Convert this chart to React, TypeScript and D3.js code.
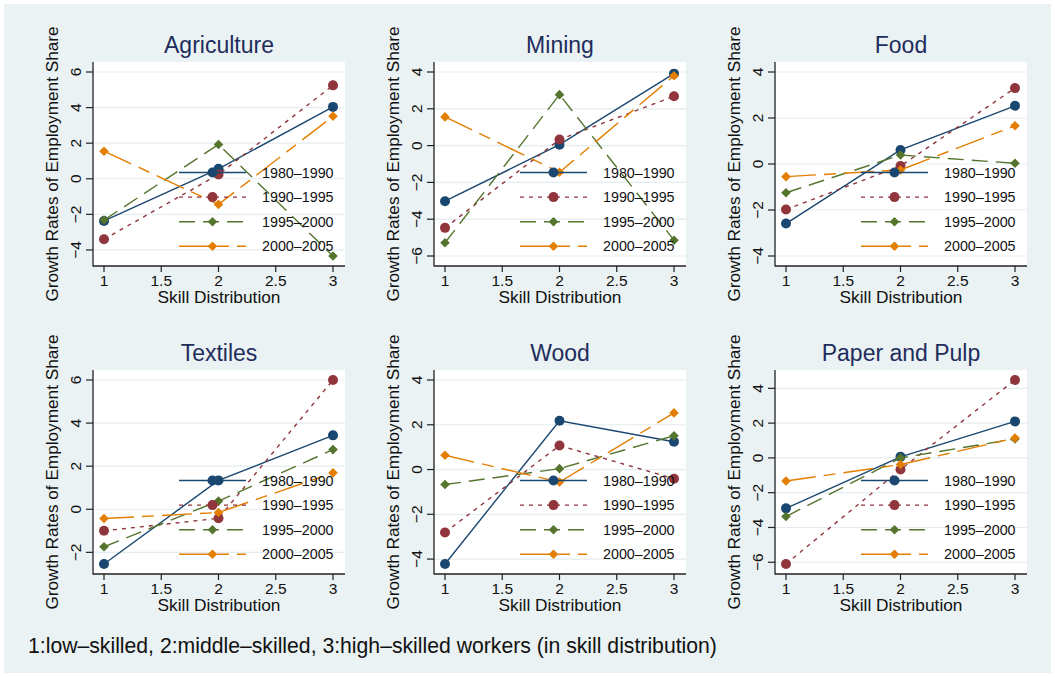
import { useEffect, useRef } from "react";
import * as d3 from "d3";

// Growth rates of employment share by skill level, one array per industry
// rows follow `periods`, columns follow `skillLevels`
const periods = ["1980–1990", "1990–1995", "1995–2000", "2000–2005"];
const skillLevels = [1, 2, 3];
const xTicks = [1, 1.5, 2, 2.5, 3];

const agriculture = [
  [-2.37, 0.56, 4.04],
  [-3.4, 0.24, 5.25],
  [-2.32, 1.93, -4.34],
  [1.55, -1.44, 3.51],
];
const mining = [
  [-3.02, 0.05, 3.91],
  [-4.47, 0.33, 2.68],
  [-5.28, 2.77, -5.14],
  [1.56, -1.45, 3.8],
];
const food = [
  [-2.59, 0.61, 2.53],
  [-1.98, -0.09, 3.3],
  [-1.25, 0.39, 0.03],
  [-0.55, -0.26, 1.66],
];
const textiles = [
  [-2.54, 1.34, 3.43],
  [-1.0, -0.42, 6.0],
  [-1.74, 0.38, 2.77],
  [-0.43, -0.15, 1.69],
];
const wood = [
  [-4.22, 2.18, 1.24],
  [-2.81, 1.07, -0.41],
  [-0.67, 0.04, 1.51],
  [0.64, -0.56, 2.53],
];
const paperPulp = [
  [-2.9, 0.06, 2.1],
  [-6.1, -0.67, 4.48],
  [-3.37, 0.0, 1.09],
  [-1.33, -0.38, 1.14],
];

const industryNames = ["Agriculture", "Mining", "Food", "Textiles", "Wood", "Paper and Pulp"];
const industryValues = [agriculture, mining, food, textiles, wood, paperPulp];
const industryYTicks = [
  [-4, -2, 0, 2, 4, 6],
  [-6, -4, -2, 0, 2, 4],
  [-4, -2, 0, 2, 4],
  [-2, 0, 2, 4, 6],
  [-4, -2, 0, 2, 4],
  [-6, -4, -2, 0, 2, 4],
];

const footnote =
  "1:low–skilled, 2:middle–skilled, 3:high–skilled workers (in skill distribution)";

// series look (Stata s2color)
const colors = ["#1a476f", "#90353b", "#55752f", "#e37e00"];
const dashes = [null, "4,5", "16,8", "30,8,12,8"];
const symbols = ["circle", "circle", "diamond", "diamond"];

const FONT = "'Liberation Sans', Arial, Helvetica, sans-serif";

export default function App() {
  const svgRef = useRef<SVGSVGElement | null>(null);

  useEffect(() => {
    if (!svgRef.current) return;
    const width = 1055;
    const height = 677;

    const svg = d3.select(svgRef.current);
    svg.selectAll("*").remove();

    // outer white frame + graph region
    svg.append("rect").attr("width", width).attr("height", height).attr("fill", "#ffffff");
    svg.append("rect")
      .attr("x", 4).attr("y", 4)
      .attr("width", 1047).attr("height", 669)
      .attr("fill", "#eaf2f3");

    // panel layout
    const plotW = 252;
    const plotH = 204;
    const colStep = 341;
    const rowStep = 308;

    const drawMarker = (g: any, kind: string, cx: number, cy: number, color: string) => {
      if (kind === "circle") {
        g.append("circle").attr("cx", cx).attr("cy", cy).attr("r", 5).attr("fill", color);
      } else {
        const r = 4.8;
        g.append("path")
          .attr("d", `M${cx},${cy - r}L${cx + r},${cy}L${cx},${cy + r}L${cx - r},${cy}Z`)
          .attr("fill", color);
      }
    };

    industryNames.forEach((name, i) => {
      const col = i % 3;
      const row = Math.floor(i / 3);
      const left = 93 + col * colStep;
      const top = 62 + row * rowStep;
      const right = left + plotW;
      const bottom = top + plotH;
      const values = industryValues[i];
      const yTicks = industryYTicks[i];

      const x = d3.scaleLinear().domain([1, 3]).range([left + 11, right - 12]);
      const yExt = d3.extent([...values.flat(), ...yTicks]) as [number, number];
      const y = d3.scaleLinear().domain(yExt).range([bottom - 10, top + 10]);

      const g = svg.append("g");

      // plot region
      g.append("rect")
        .attr("x", left).attr("y", top)
        .attr("width", plotW).attr("height", plotH)
        .attr("fill", "#ffffff");

      // grid
      g.selectAll(".grid")
        .data(yTicks)
        .enter()
        .append("line")
        .attr("x1", left).attr("x2", right)
        .attr("y1", (d) => y(d)).attr("y2", (d) => y(d))
        .attr("stroke", "#e4edef")
        .attr("stroke-width", 1.2);

      // title
      g.append("text")
        .attr("x", (left + right) / 2)
        .attr("y", top - 9)
        .attr("text-anchor", "middle")
        .attr("font-family", FONT)
        .attr("font-size", 23)
        .attr("fill", "#1e2d5c")
        .text(name);

      // axes
      g.append("line")
        .attr("x1", left).attr("x2", left)
        .attr("y1", top).attr("y2", bottom + 0.6)
        .attr("stroke", "#222").attr("stroke-width", 1.3);
      g.append("line")
        .attr("x1", left).attr("x2", right)
        .attr("y1", bottom).attr("y2", bottom)
        .attr("stroke", "#222").attr("stroke-width", 1.3);

      // y ticks + rotated labels
      yTicks.forEach((t) => {
        g.append("line")
          .attr("x1", left - 7).attr("x2", left)
          .attr("y1", y(t)).attr("y2", y(t))
          .attr("stroke", "#222").attr("stroke-width", 1.2);
        g.append("text")
          .attr("transform", `translate(${left - 12.5},${y(t)}) rotate(-90)`)
          .attr("text-anchor", "middle")
          .attr("font-family", FONT)
          .attr("font-size", 15.5)
          .attr("fill", "#111")
          .text(d3.format("")(t).replace("-", "−"));
      });

      // x ticks + labels
      xTicks.forEach((t) => {
        g.append("line")
          .attr("x1", x(t)).attr("x2", x(t))
          .attr("y1", bottom).attr("y2", bottom + 6)
          .attr("stroke", "#222").attr("stroke-width", 1.2);
        g.append("text")
          .attr("x", x(t))
          .attr("y", bottom + 20)
          .attr("text-anchor", "middle")
          .attr("font-family", FONT)
          .attr("font-size", 15.5)
          .attr("fill", "#111")
          .text(String(t));
      });

      // axis titles
      g.append("text")
        .attr("x", (left + right) / 2)
        .attr("y", bottom + 37)
        .attr("text-anchor", "middle")
        .attr("font-family", FONT)
        .attr("font-size", 17.3)
        .attr("fill", "#111")
        .text("Skill Distribution");
      g.append("text")
        .attr("transform", `translate(${left - 35},${(top + bottom) / 2}) rotate(-90)`)
        .attr("text-anchor", "middle")
        .attr("font-family", FONT)
        .attr("font-size", 17.2)
        .attr("fill", "#111")
        .text("Growth Rates of Employment Share");

      // series
      const line = d3.line<number>()
        .x((_, j) => x(skillLevels[j]))
        .y((d) => y(d));

      values.forEach((vals, s) => {
        const path = g.append("path")
          .attr("d", line(vals))
          .attr("fill", "none")
          .attr("stroke", colors[s])
          .attr("stroke-width", 1.4);
        if (dashes[s]) path.attr("stroke-dasharray", dashes[s]);
        vals.forEach((v, j) => drawMarker(g, symbols[s], x(skillLevels[j]), y(v), colors[s]));
      });

      // legend (inside plot, no frame)
      periods.forEach((p, s) => {
        const ly = top + 110.5 + s * 24.6;
        const seg = g.append("line")
          .attr("x1", left + 86).attr("x2", left + 153)
          .attr("y1", ly).attr("y2", ly)
          .attr("stroke", colors[s])
          .attr("stroke-width", 1.4);
        if (dashes[s]) seg.attr("stroke-dasharray", dashes[s]);
        drawMarker(g, symbols[s], left + 119.5, ly, colors[s]);
        g.append("text")
          .attr("x", left + 169)
          .attr("y", ly + 5)
          .attr("font-family", FONT)
          .attr("font-size", 14.3)
          .attr("fill", "#111")
          .text(p);
      });
    });

    // note
    svg.append("text")
      .attr("x", 28)
      .attr("y", 653)
      .attr("font-family", FONT)
      .attr("font-size", 21.2)
      .attr("fill", "#111")
      .text(footnote);
  }, []);

  return (
    <svg
      ref={svgRef}
      width={1055}
      height={677}
      viewBox="0 0 1055 677"
      style={{ position: "absolute", left: 0, top: 0, display: "block" }}
    />
  );
}
